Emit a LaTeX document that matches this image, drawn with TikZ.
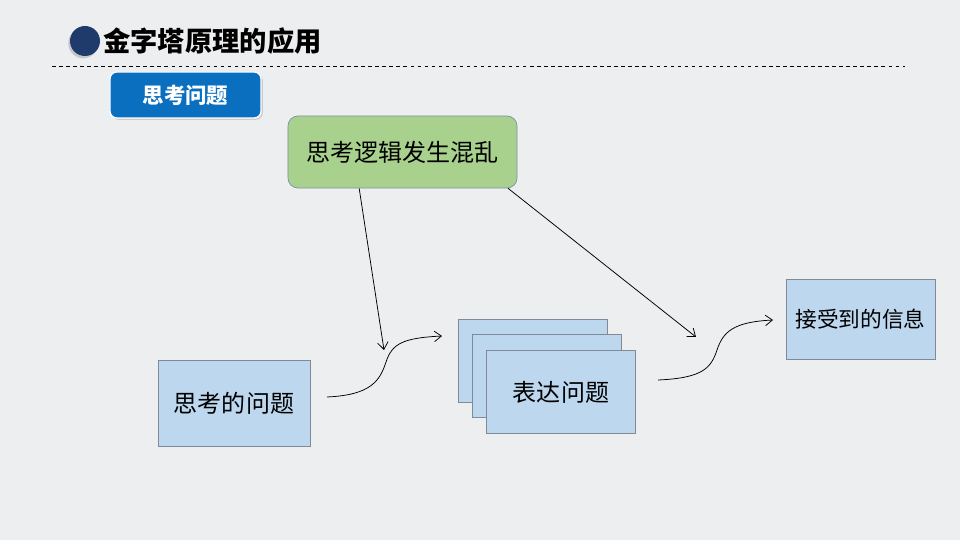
\documentclass[tikz,border=0pt]{standalone}
\usepackage{fontspec}
\newfontfamily\cjk{Noto Sans CJK SC}
\usetikzlibrary{arrows.meta,shadows}
\definecolor{bggray}{HTML}{EDEEF0}
\definecolor{navy}{HTML}{1F3B6B}
\definecolor{btnblue}{HTML}{0B6FC0}
\definecolor{leafgreen}{HTML}{A9D18E}
\definecolor{greenline}{HTML}{7C91A8}
\definecolor{paleblue}{HTML}{BDD7EE}
\definecolor{paleline}{HTML}{808A96}

\begin{document}
\begin{tikzpicture}[x=0.03cm, y=-0.03cm, font=\cjk,
    arr/.style={-{Straight Barb[length=6pt,width=9pt]}, line width=0.65pt},
    card/.style={draw=paleline, fill=paleblue, line width=0.6pt,
      minimum width=4.47cm, minimum height=2.49cm, inner sep=0pt}]
	\fill [bggray] (0,0) rectangle (960,540);
	% title
	\fill [navy, drop shadow={shadow xshift=-1.5pt, shadow yshift=-2pt, opacity=.35}]
	  (85,41) circle [radius=15];
	\node (0) [anchor=west, inner sep=0pt, font=\cjk\bfseries\fontsize{23.3}{27}\selectfont]
	  at (103,41) {金字塔原理的应用};
	\draw [dashed, line width=0.6pt] (52,66) -- (905,66);
	% button
	\node (1) [draw=white, line width=1.2pt, fill=btnblue, rounded corners=0.2cm,
	  minimum width=4.53cm, minimum height=1.38cm, text=white,
	  font=\cjk\bfseries\fontsize{18.3}{21}\selectfont,
	  drop shadow={shadow xshift=1.5pt, shadow yshift=-1.5pt, opacity=.3}]
	  at (185.5,95) {思考问题};
	% boxes
	\node (2) [draw=greenline, fill=leafgreen, line width=0.6pt, rounded corners=0.3cm,
	  minimum width=6.87cm, minimum height=2.16cm,
	  font=\cjk\fontsize{20.5}{24}\selectfont]
	  at (402.5,152) {思考逻辑发生混乱};
	\node (3) [card, minimum width=4.56cm, minimum height=2.58cm,
	  font=\cjk\fontsize{20.5}{24}\selectfont]
	  at (234,403) {思考的问题};
	\node (4) [card] at (532.5,360.5) {};
	\node (5) [card] at (546.5,376) {};
	\node (6) [card, font=\cjk\fontsize{20.5}{24}\selectfont]
	  at (561,392) {表达问题};
	\node (7) [card, minimum height=2.4cm,
	  font=\cjk\fontsize{18.5}{22}\selectfont]
	  at (860.5,319) {接受到的信息};
	% free ends
	\coordinate (a) at (384,350);
	\coordinate (b) at (696,337);
	\coordinate (s1) at (327,397);
	\coordinate (m1) at (386,362);
	\coordinate (e1) at (442,336);
	\coordinate (s2) at (658,380);
	\coordinate (m2) at (717,350);
	\coordinate (e2) at (773,320);
	\draw [arr] (2.220) -- (a);
	\draw [arr] (2.341.5) -- (b);
	\draw [arr]
	  (s1) .. controls +(45,-2) and +(-6,18) .. (m1)
	  .. controls +(6,-18) and +(-40,2) .. (e1);
	\draw [arr]
	  (s2) .. controls +(45,-2) and +(-6,18) .. (m2)
	  .. controls +(6,-18) and +(-40,2) .. (e2);
\end{tikzpicture}
\end{document}
